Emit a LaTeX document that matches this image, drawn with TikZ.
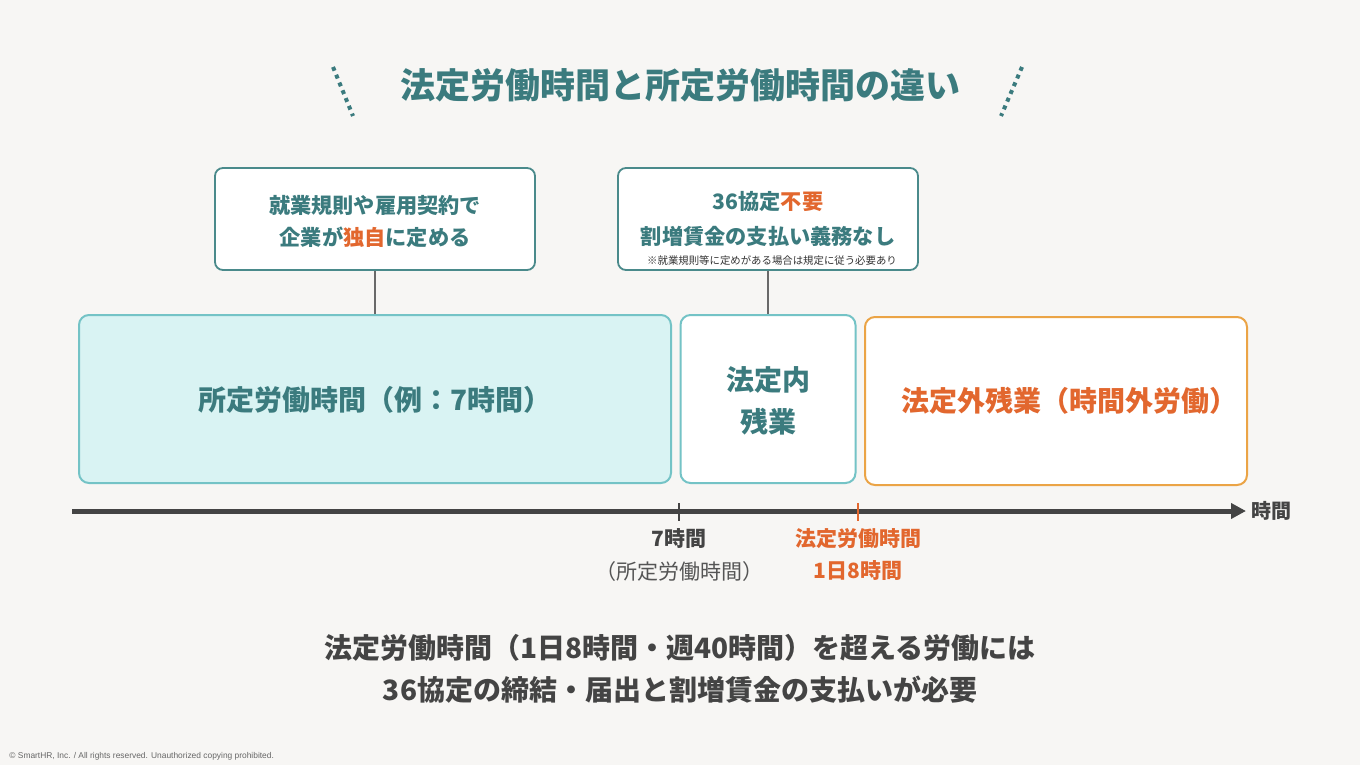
\documentclass[tikz,border=0pt]{standalone}
\usepackage{fontspec}
\setmainfont{Noto Sans CJK JP}
\newfontfamily\latinfont{Liberation Sans}
\usetikzlibrary{arrows.meta}

\definecolor{bgpaper}{HTML}{F7F6F4}
\definecolor{hrteal}{HTML}{3B7B7E}
\definecolor{hrorange}{HTML}{E2672E}
\definecolor{boxedge}{HTML}{4A8A8B}
\definecolor{cyanfill}{HTML}{D9F3F3}
\definecolor{cyanedge}{HTML}{74C3C6}
\definecolor{ambedge}{HTML}{EBA446}
\definecolor{axisgray}{HTML}{444444}
\definecolor{notegray}{HTML}{555555}

\begin{document}
\begin{tikzpicture}[x=0.5pt,y=-0.5pt,
    topbox/.style={draw=boxedge,line width=0.9pt,fill=white,rounded corners=4pt,
      minimum height=51pt,inner sep=0pt},
    timebox/.style={line width=1pt,rounded corners=5pt,minimum height=84pt,inner sep=0pt},
    boxtext/.style={font=\fontsize{10.6}{12}\selectfont\bfseries,text=hrteal,inner sep=0pt},
    bigtext/.style={font=\fontsize{14}{16}\selectfont\bfseries,inner sep=0pt},
    ticktext/.style={font=\fontsize{10.5}{12}\selectfont\bfseries,inner sep=0pt}]

        % background
        \useasboundingbox (0,0) rectangle (1360,765);
        \fill[bgpaper] (0,0) rectangle (1360,765);

        % title
        \node[font=\fontsize{17.5}{20}\selectfont\bfseries,text=hrteal] (title) at (680,85)
          {法定労働時間と所定労働時間の違い};
        \draw[hrteal,line width=2pt,dash pattern=on 2pt off 2.2pt] (333,67) -- (353,116);
        \draw[hrteal,line width=2pt,dash pattern=on 2pt off 2.2pt] (1022,67) -- (1001,116);

        % upper notes
        \node[topbox,minimum width=160pt] (rule) at (375,219) {};
        \node[boxtext] (ruleA) at (375,205) {就業規則や雇用契約で};
        \node[boxtext] (ruleB) at (375,237) {企業が\textcolor{hrorange}{独自}に定める};

        \node[topbox,minimum width=150pt] (extra) at (768,219) {};
        \node[boxtext] (extraA) at (768,202) {36協定\textcolor{hrorange}{不要}};
        \node[boxtext] (extraB) at (768,236) {割増賃金の支払い義務なし};
        \node[font=\fontsize{5.2}{6}\selectfont,text=black!80,inner sep=0pt] (extraC) at (772,261)
          {※就業規則等に定めがある場合は規定に従う必要あり};

        % time blocks
        \node[timebox,draw=cyanedge,fill=cyanfill,minimum width=296pt] (fixed) at (375,399) {};
        \node[bigtext,text=hrteal] (fixedT) at (375,400) {所定労働時間（例：7時間）};

        \node[timebox,draw=cyanedge,fill=white,minimum width=87.5pt] (within) at (768,399) {};
        \node[bigtext,text=hrteal,align=center] (withinT) at (768,401)
          {法定内\\[5pt]残業};

        \node[timebox,draw=ambedge,fill=white,minimum width=191pt] (over) at (1056,401) {};
        \node[bigtext,text=hrorange] (overT) at (1069,401) {法定外残業（時間外労働）};

        % connectors
        \draw[axisgray!80,line width=0.6pt] (rule.south) -- (fixed.north);
        \draw[axisgray!80,line width=0.6pt] (extra.south) -- (within.north);

        % time axis
        \coordinate (axisL) at (72,511);
        \coordinate (axisR) at (1246,511);
        \draw[axisgray,line width=2.5pt,-{Triangle[length=7.5pt,width=7.5pt]}] (axisL) -- (axisR);
        \node[font=\fontsize{10}{12}\selectfont\bfseries,text=axisgray,anchor=west,inner sep=0pt]
          (axisT) at (1251,511) {時間};

        % ticks
        \coordinate (sevenTop) at (679,503);
        \coordinate (sevenBot) at (679,521);
        \draw[axisgray,line width=0.9pt] (sevenTop) -- (sevenBot);
        \coordinate (eightTop) at (858,503);
        \coordinate (eightBot) at (858,521);
        \draw[hrorange,line width=0.9pt] (eightTop) -- (eightBot);

        \node[ticktext,text=axisgray] (sevenA) at (679,539) {7時間};
        \node[font=\fontsize{10.5}{12}\selectfont,text=notegray,inner sep=0pt] (sevenB) at (679,572)
          {（所定労働時間）};
        \node[ticktext,text=hrorange] (eightA) at (858,539) {法定労働時間};
        \node[ticktext,text=hrorange] (eightB) at (858,571) {1日8時間};

        % summary
        \node[bigtext,text=axisgray] (sumA) at (680,648)
          {法定労働時間（1日8時間・週40時間）を超える労働には};
        \node[bigtext,text=axisgray] (sumB) at (680,690)
          {36協定の締結・届出と割増賃金の支払いが必要};

        % footer
        \node[font=\latinfont\fontsize{4.2}{5}\selectfont,text=black!60,anchor=west,inner sep=0pt]
          (copy) at (9,756) {© SmartHR, Inc. / All rights reserved. Unauthorized copying prohibited.};

\end{tikzpicture}
\end{document}
